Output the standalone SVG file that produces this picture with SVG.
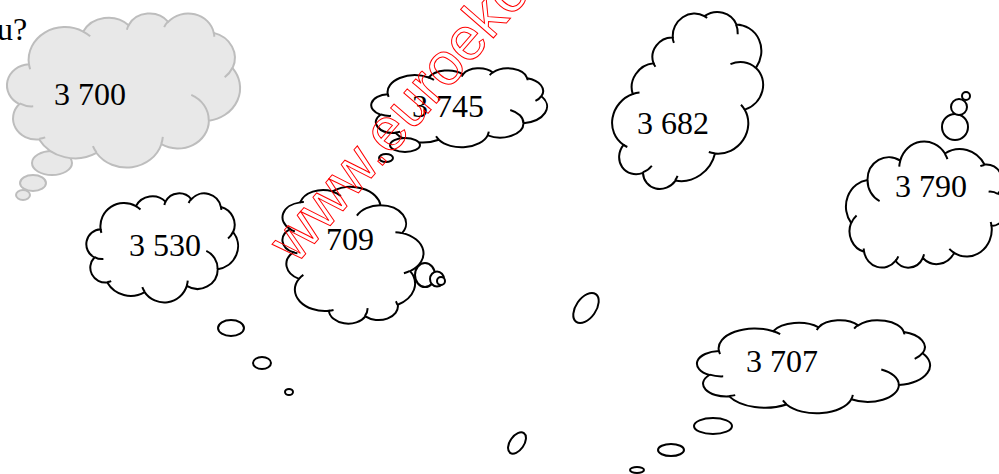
<svg xmlns="http://www.w3.org/2000/svg" xmlns:xlink="http://www.w3.org/1999/xlink" width="999" height="474" viewBox="0 0 999 474">
<style>
.cl{fill:#fff;stroke:#000;stroke-width:2}
.gr{fill:#e8e8e8;stroke:#bdbdbd;stroke-width:2}
.curl{fill:none}
.num{font-family:"Liberation Serif","Times New Roman",serif;font-size:32px;fill:#000;stroke:none}
.wm{font-family:"Liberation Sans",Arial,sans-serif;font-size:60px;fill:none;stroke:#ff0000;stroke-width:1}
</style>
<defs>
<path id="co" vector-effect="non-scaling-stroke" d="M -409.7 -167.4 A 156.3 212.7 0 0 1 -175.8 -379.6 A 123.4 168.2 0 0 1 19.8 -420.6 A 101.0 137.6 0 0 1 190.6 -442.6 A 112.4 152.7 0 0 1 387.0 -370.9 A 123.4 168.4 0 0 1 468.0 -142.1 A 156.8 213.4 0 0 1 365.9 199.1 A 133.9 182.1 0 0 1 161.0 352.2 A 156.3 213.3 0 0 1 -118.5 408.9 A 178.7 244.1 0 0 1 -365.6 321.1 A 100.9 137.0 0 0 1 -451.1 91.5 A 100.6 137.6 0 0 1 -409.7 -167.4 Z"/>
<path id="ci" class="curl" vector-effect="non-scaling-stroke" d="M -391.4 105.9 A 100.6 137.6 0 0 1 -450.0 87.5 M -339.6 307.9 A 100.9 137.0 0 0 1 -365.3 316.7 M -118.6 404.9 A 156.3 213.3 0 0 1 -134.0 364.6 M 167.3 304.4 A 156.3 213.3 0 0 1 161.1 348.6 M 290.0 31.3 A 133.9 182.1 0 0 1 365.3 196.5 M 467.5 -144.6 A 123.4 168.4 0 0 1 434.0 -82.6 M 387.1 -374.4 A 112.4 152.7 0 0 1 388.9 -345.2 M 173.1 -408.5 A 112.4 152.7 0 0 1 190.3 -445.8 M 12.5 -390.7 A 101.0 137.6 0 0 1 20.8 -422.9 M -175.9 -379.8 A 156.3 212.7 0 0 1 -145.8 -348.6 M -404.5 -134.5 A 156.3 212.7 0 0 1 -409.7 -167.4"/>
</defs>

<text class="num" x="-3" y="40">u?</text>

<g id="cloud-3700" class="gr">
<ellipse cx="23" cy="195" rx="7" ry="5"/>
<ellipse cx="33" cy="183" rx="13" ry="8"/>
<ellipse cx="52" cy="163" rx="20" ry="12"/>
<use href="#co" transform="translate(124 90) scale(0.232 0.154)"/>
<use href="#ci" transform="translate(124 90) scale(0.232 0.154)"/>
<text class="num" x="54" y="105">3 700</text>
</g>

<g id="cloud-3530" class="cl">
<ellipse cx="231" cy="328" rx="13" ry="8"/>
<ellipse cx="262" cy="363" rx="9" ry="6"/>
<ellipse cx="289" cy="392" rx="4" ry="3"/>
<use href="#co" transform="translate(162.5 247.5) scale(0.151 0.109)"/>
<use href="#ci" transform="translate(162.5 247.5) scale(0.151 0.109)"/>
<text class="num" x="129" y="256">3 530</text>
</g>

<g id="cloud-709" class="cl">
<use href="#co" transform="translate(352.5 255) rotate(-90) scale(0.136 0.141)"/>
<use href="#ci" transform="translate(352.5 255) rotate(-90) scale(0.136 0.141)"/>
<ellipse cx="425" cy="275" rx="10" ry="12"/>
<ellipse cx="437" cy="279" rx="7" ry="7.5"/>
<ellipse cx="441" cy="281" rx="4" ry="4"/>
<text class="num" x="326" y="250">709</text>
</g>

<g id="cloud-3745" class="cl">
<use href="#co" transform="translate(459.5 107.5) scale(0.175 0.079)"/>
<use href="#ci" transform="translate(459.5 107.5) scale(0.175 0.079)"/>
<ellipse cx="405" cy="145" rx="15" ry="7"/>
<ellipse cx="386" cy="158" rx="7" ry="4"/>
<text class="num" x="412" y="117">3 745</text>
</g>

<g id="cloud-3682" class="cl">
<use href="#co" transform="translate(691 102) rotate(-48) scale(0.188 0.128)"/>
<use href="#ci" transform="translate(691 102) rotate(-48) scale(0.188 0.128)"/>
<text class="num" x="637" y="134">3 682</text>
</g>

<g id="cloud-3790" class="cl">
<ellipse cx="955" cy="127" rx="13" ry="13"/>
<ellipse cx="959" cy="107" rx="8" ry="8"/>
<ellipse cx="966" cy="96" rx="4" ry="4"/>
<use href="#co" transform="translate(926 205) rotate(180) scale(0.16 0.126)"/>
<use href="#ci" transform="translate(926 205) rotate(180) scale(0.16 0.126)"/>
<text class="num" x="895" y="197">3 790</text>
</g>

<g id="cloud-3707" class="cl">
<ellipse cx="713" cy="426" rx="19" ry="8"/>
<ellipse cx="671" cy="450" rx="13" ry="6"/>
<ellipse cx="637" cy="470" rx="7" ry="3"/>
<use href="#co" transform="translate(814 366.5) scale(0.232 0.093)"/>
<use href="#ci" transform="translate(814 366.5) scale(0.232 0.093)"/>
<text class="num" x="746" y="372">3 707</text>
</g>

<g id="bubbles" class="cl">
<ellipse cx="586" cy="308" rx="17" ry="10" transform="rotate(-55 586 308)"/>
<ellipse cx="517" cy="443" rx="12" ry="7" transform="rotate(-55 517 443)"/>
</g>

<text class="wm" x="296" y="265" transform="rotate(-49 296 265)">www.euroeko</text>
</svg>
